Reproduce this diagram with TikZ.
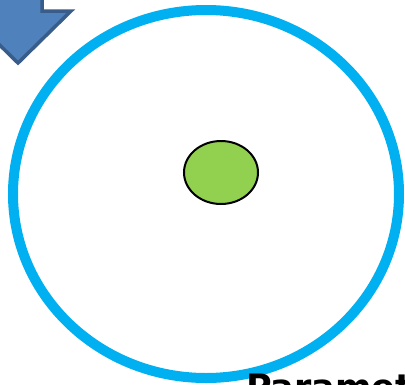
\documentclass[tikz,border=0pt]{standalone}
\usepackage{fontspec}
\usetikzlibrary{shapes.geometric}
\newfontfamily\labelfont{DejaVu Sans}
\definecolor{ringblue}{HTML}{00B0F0}
\definecolor{dotgreen}{HTML}{92D050}
\definecolor{arrowfill}{HTML}{4F81BD}
\definecolor{arrowline}{HTML}{385D8A}
\tikzset{
  ring/.style={draw=ringblue, line width=10pt},
  dot/.style={draw=black, fill=dotgreen, line width=2pt},
  blockarrow/.style={draw=arrowline, fill=arrowfill, line width=3.5pt, line join=miter},
  caption/.style={font=\labelfont\bfseries\fontsize{35pt}{40pt}\selectfont, text=black, inner sep=0pt, anchor=base west}
}
\begin{document}
\begin{tikzpicture}[x=1pt,y=-1pt]
\useasboundingbox (0,0) rectangle (405,384);
\fill[white] (0,0) rectangle (405,384);
% block arrow pointing down (partially off the page)
\draw[blockarrow] (-6,-20) -- (42,-20) -- (42,11) -- (71,11) -- (18,63) -- (-35,11) -- (-6,11) -- cycle;
% big ring
\draw[ring] (206,194) ellipse [x radius=193, y radius=184];
% green dot
\node[dot, ellipse, minimum width=74pt, minimum height=63pt, inner sep=0pt] (dot) at (221,172.5) {};
% caption
\node[caption] (cap) at (246,399.5) {Paramet};
\end{tikzpicture}
\end{document}
